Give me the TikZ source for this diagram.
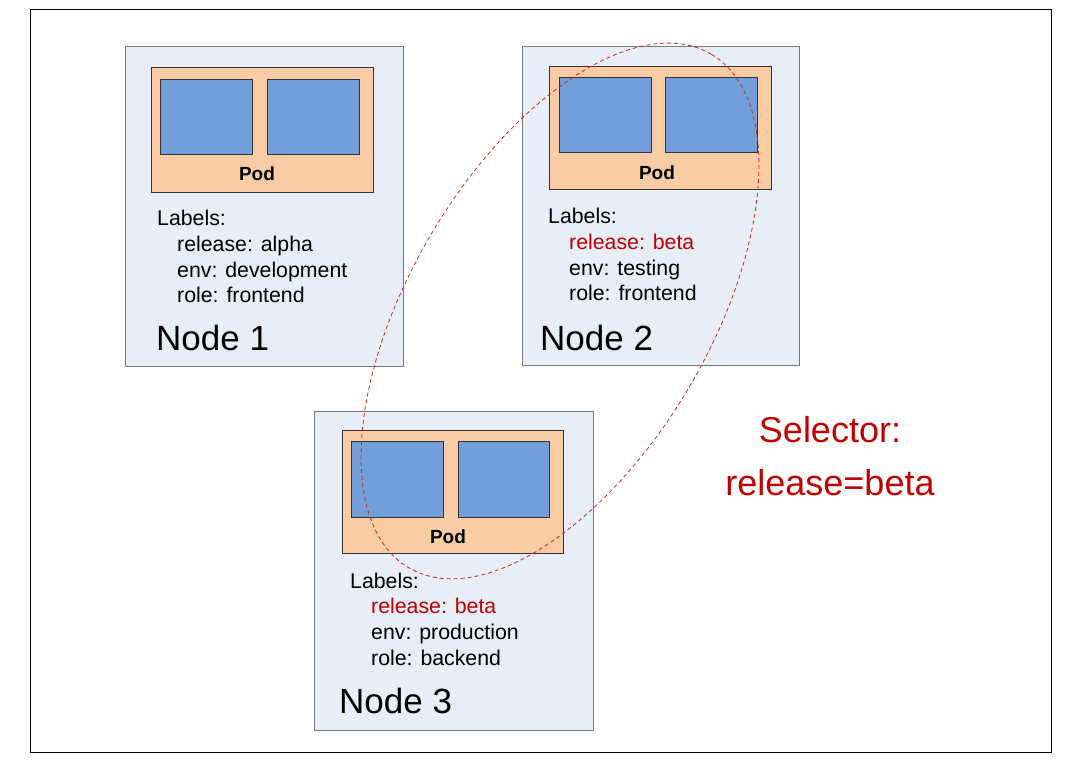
\documentclass[tikz,border=0pt]{standalone}
\usepackage{fontspec}
\setmainfont{Liberation Sans}
\definecolor{nodefill}{RGB}{232,238,247}
\definecolor{nodeline}{RGB}{120,120,120}
\definecolor{podfill}{RGB}{250,204,166}
\definecolor{ctrfill}{RGB}{114,159,217}
\definecolor{selred}{RGB}{192,0,0}
\definecolor{ellred}{RGB}{200,40,40}
\begin{document}
\begin{tikzpicture}[x=1pt,y=-1pt,
  frame/.style={draw=black,line width=1pt},
  nodebox/.style={draw=nodeline,fill=nodefill,line width=1pt,inner sep=0pt,outer sep=0pt,anchor=north west},
  podbox/.style={draw=black!80,fill=podfill,line width=0.9pt,inner sep=0pt,outer sep=0pt,anchor=north west},
  ctrbox/.style={draw=black!80,fill=ctrfill,line width=0.9pt,inner sep=0pt,outer sep=0pt,anchor=north west,minimum width=92pt,minimum height=75pt},
  lbl/.style={anchor=base west,inner sep=0pt,font=\fontsize{21.3}{25}\selectfont},
  redlbl/.style={lbl,text=selred},
  title/.style={anchor=base west,inner sep=0pt,font=\fontsize{35}{40}\selectfont},
  podtxt/.style={anchor=base,inner sep=0pt,font=\bfseries\fontsize{19}{22}\selectfont},
  seltxt/.style={anchor=base,inner sep=0pt,text=selred,font=\fontsize{36}{42}\selectfont},
  sel/.style={draw=ellred,dash pattern=on 4pt off 3pt,line width=0.8pt}
]
\useasboundingbox (0,0) rectangle (1074,765);
\node[frame,inner sep=0pt,anchor=north west,minimum width=1021.5pt,minimum height=742.5pt] (frame) at (29.5,9.5) {};

% Node 1
\node[nodebox,minimum width=278pt,minimum height=319pt] (n1) at (125,47) {};
\node[podbox,minimum width=222pt,minimum height=125pt] (p1) at (151,67) {};
\node[ctrbox] (c1a) at (160,79) {};
\node[ctrbox] (c1b) at (267,79) {};
\node[podtxt] (p1t) at (257,181) {Pod};
\node[lbl] (l1) at (157,225) {Labels:};
\node[lbl] (l1a) at (177,251) {release: alpha};
\node[lbl] (l1b) at (177,277) {env: development};
\node[lbl] (l1c) at (177,302) {role: frontend};
\node[title] (t1) at (156,350) {Node 1};

% Node 2
\node[nodebox,minimum width=277pt,minimum height=318pt] (n2) at (522,47) {};
\node[podbox,minimum width=222pt,minimum height=123pt] (p2) at (549,66) {};
\node[ctrbox] (c2a) at (559,77) {};
\node[ctrbox] (c2b) at (665,77) {};
\node[podtxt] (p2t) at (657,179) {Pod};
\node[lbl] (l2) at (548,223) {Labels:};
\node[redlbl] (l2a) at (569,249) {release: beta};
\node[lbl] (l2b) at (569,275) {env: testing};
\node[lbl] (l2c) at (569,300) {role: frontend};
\node[title] (t2) at (540,350) {Node 2};

% Node 3
\node[nodebox,minimum width=279pt,minimum height=319pt] (n3) at (314,411) {};
\node[podbox,minimum width=221pt,minimum height=123pt] (p3) at (342,430) {};
\node[ctrbox,minimum height=76pt] (c3a) at (351,441) {};
\node[ctrbox,minimum width=91pt,minimum height=76pt] (c3b) at (458,441) {};
\node[podtxt] (p3t) at (448,543) {Pod};
\node[lbl] (l3) at (350,588) {Labels:};
\node[redlbl] (l3a) at (371,613) {release: beta};
\node[lbl] (l3b) at (371,639) {env: production};
\node[lbl] (l3c) at (371,665) {role: backend};
\node[title] (t3) at (339,713) {Node 3};

% Selector
\coordinate (ec) at (560,311);
\begin{scope}[shift={(ec)},rotate=59.5]
\draw[sel] (0,0) ellipse [x radius=298pt, y radius=150pt];
\end{scope}
\node[seltxt] (s1) at (830,442) {Selector:};
\node[seltxt] (s2) at (830,495) {release=beta};
\end{tikzpicture}
\end{document}
